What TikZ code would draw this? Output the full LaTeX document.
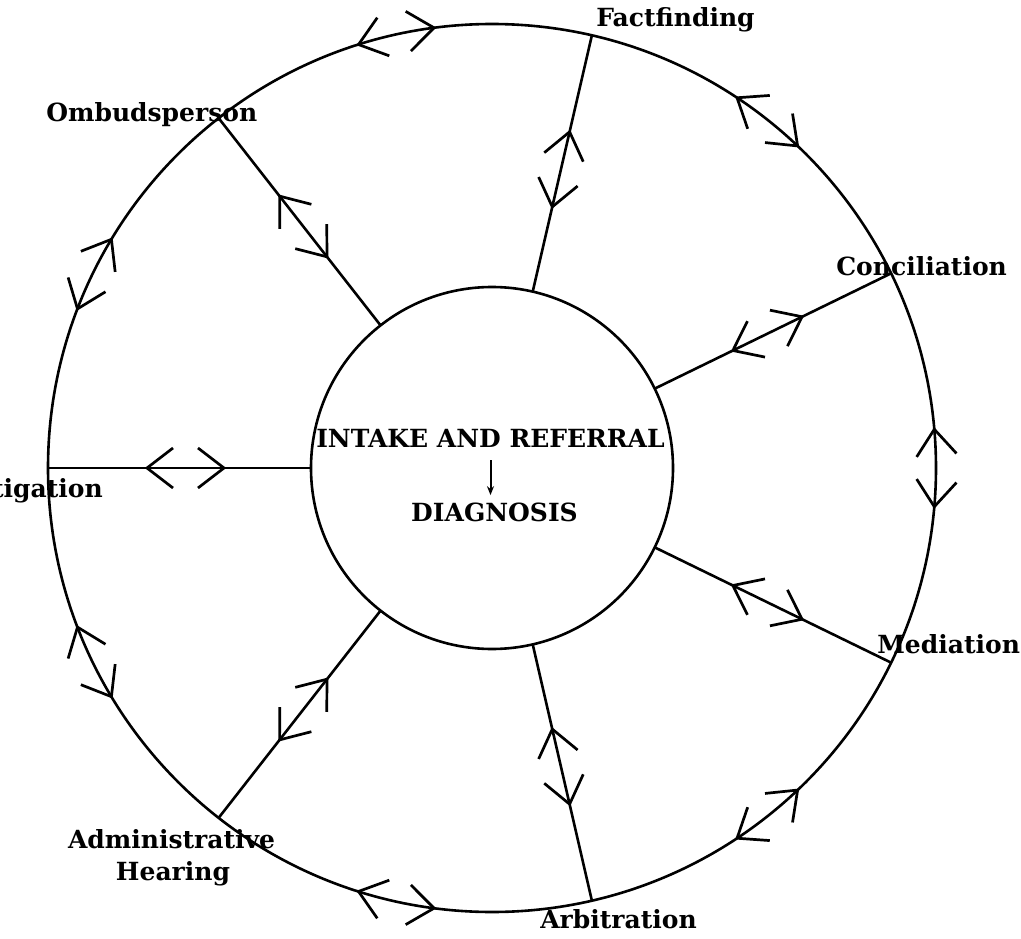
\documentclass[tikz,border=0pt]{standalone}
\usepackage{fontspec}
\setmainfont{DejaVu Serif}
\usetikzlibrary{arrows.meta}
\begin{document}
\begin{tikzpicture}[x=1pt,y=1pt,line width=2.6pt,
  chev/.pic={\draw[line width=2.7pt] (-26,20) -- (0,0) -- (-26,-20);},
  ring/.style={circle,draw,inner sep=0pt,outer sep=0pt},
  lbl/.style={font=\bfseries\fontsize{25}{30}\selectfont,inner sep=0pt},
  hubtext/.style={font=\bfseries\fontsize{25}{30}\selectfont,inner sep=0pt,anchor=base}]
\useasboundingbox (0,0) rectangle (1021,-939);
\coordinate (O) at (492,-468);
\node[ring,minimum size=888pt] (outer) at (O) {};
\node[ring,minimum size=362pt] (hub) at (O) {};
% spokes with chevrons
\foreach \s in {180,128,77,26,-26,-77,-128}{
  \draw (hub.\s) -- (outer.\s);
  \path (O) ++(\s:345) pic[rotate=\s]{chev};
  \path (O) ++(\s:268) pic[rotate={\s+180}]{chev};
}
% chevrons on the outer ring
\foreach \m in {154,102.5,51.5,0,-51.5,-102.5,-154}{
  \path (O) ++({\m+5}:444) pic[rotate={\m+95}]{chev};
  \path (O) ++({\m-5}:444) pic[rotate={\m-95}]{chev};
}
% hub text
\node[hubtext] (intake) at (490.5,-447) {INTAKE AND REFERRAL};
\node[hubtext] (diag) at (494.5,-521) {DIAGNOSIS};
\draw[line width=2pt,-{Stealth[length=9pt,width=7pt]},shorten <=12pt,shorten >=6pt] (intake.south) -- (intake.south |- diag.north);
% labels
\node[lbl,anchor=base west] (ff) at (595,-27) {Factfinding};
\node[lbl,anchor=base west] (om) at (45,-122) {Ombudsperson};
\node[lbl,anchor=base west] (co) at (835,-275) {Conciliation};
\node[lbl,anchor=base west] (me) at (876,-653) {Mediation};
\node[lbl,anchor=base east] (li) at (104,-497) {Litigation};
\node[lbl,anchor=base] (ad) at (171.5,-848) {Administrative};
\node[lbl,anchor=base] (he) at (173,-880) {Hearing};
\node[lbl,anchor=base west] (ar) at (539,-928) {Arbitration};
\end{tikzpicture}
\end{document}
